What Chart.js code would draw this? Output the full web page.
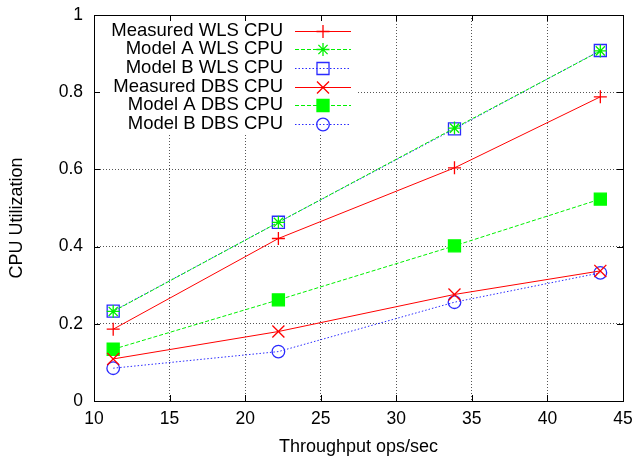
<!DOCTYPE html>
<html>
<head>
<meta charset="utf-8">
<script src="https://cdn.jsdelivr.net/npm/chart.js@4.4.0/dist/chart.umd.min.js"></script>
<style>
  html, body { margin: 0; padding: 0; background: #fff; }
  #wrap { width: 637px; height: 464px; }
</style>
</head>
<body>
<div id="wrap"><canvas id="canvas" width="637" height="464"></canvas></div>
<script>
  // throughput (ops/sec) for each run
  const throughput = [11.27, 22.2, 33.85, 43.5];

  const measuredWls = [0.186, 0.421, 0.604, 0.788];
  const modelAWls = [0.232, 0.463, 0.707, 0.907];
  const modelBWls = [0.233, 0.463, 0.705, 0.908];
  const measuredDbs = [0.109, 0.180, 0.276, 0.337];
  const modelADbs = [0.134, 0.262, 0.402, 0.523];
  const modelBDbs = [0.085, 0.128, 0.256, 0.332];

  const xTicks = [10, 15, 20, 25, 30, 35, 40, 45];
  const yTicks = [0, 0.2, 0.4, 0.6, 0.8, 1];

  const colors = {
    red: "#ff0000",
    green: "#00f000",
    greenFill: "#00ff00",
    blue: "#2a2aff"
  };

  const font = "'Liberation Sans', Arial, Helvetica, sans-serif";

  function pts(values) {
    return values.map((v, i) => ({ x: throughput[i], y: v }));
  }

  const datasets = [
    { label: "Measured WLS CPU", data: pts(measuredWls), borderColor: colors.red, borderDash: [],
      pointStyle: "cross", pointRadius: 6.5, pointBorderColor: colors.red, pointBackgroundColor: "transparent" },
    { label: "Model A WLS CPU", data: pts(modelAWls), borderColor: colors.green, borderDash: [4, 2],
      pointStyle: "star", pointRadius: 6.5, pointBorderColor: colors.green, pointBackgroundColor: "transparent" },
    { label: "Model B WLS CPU", data: pts(modelBWls), borderColor: colors.blue, borderDash: [1.5, 2],
      pointStyle: "rect", pointRadius: 8.5, pointBorderColor: colors.blue, pointBackgroundColor: "transparent" },
    { label: "Measured DBS CPU", data: pts(measuredDbs), borderColor: colors.red, borderDash: [],
      pointStyle: "crossRot", pointRadius: 8.5, pointBorderColor: colors.red, pointBackgroundColor: "transparent" },
    { label: "Model A DBS CPU", data: pts(modelADbs), borderColor: colors.green, borderDash: [4, 2],
      pointStyle: "rect", pointRadius: 8.5, pointBorderColor: colors.greenFill, pointBackgroundColor: colors.greenFill },
    { label: "Model B DBS CPU", data: pts(modelBDbs), borderColor: colors.blue, borderDash: [1.5, 2],
      pointStyle: "circle", pointRadius: 6.3, pointBorderColor: colors.blue, pointBackgroundColor: "transparent" }
  ];
  datasets.forEach(d => {
    d.borderWidth = 1;
    d.pointBorderWidth = 1.3;
    d.fill = false;
    d.tension = 0;
  });

  // gnuplot-like frame: legend box, inward ticks on all sides, border, y title
  const framePlugin = {
    id: "frame",
    beforeDatasetsDraw(chart) {
      const { ctx, chartArea } = chart;
      ctx.save();
      ctx.fillStyle = "#fff";
      ctx.fillRect(chartArea.left, chartArea.top, 264, 118);
      ctx.restore();
    },
    afterDatasetsDraw(chart) {
      const { ctx, chartArea: a, scales } = chart;
      ctx.save();
      ctx.strokeStyle = "#000";
      ctx.lineWidth = 1;
      ctx.setLineDash([]);
      ctx.beginPath();
      xTicks.forEach(t => {
        const x = Math.round(scales.x.getPixelForValue(t)) + 0.5;
        ctx.moveTo(x, a.bottom); ctx.lineTo(x, a.bottom - 6);
        ctx.moveTo(x, a.top); ctx.lineTo(x, a.top + 6);
      });
      yTicks.forEach(t => {
        const y = Math.round(scales.y.getPixelForValue(t)) + 0.5;
        ctx.moveTo(a.left, y); ctx.lineTo(a.left + 6, y);
        ctx.moveTo(a.right, y); ctx.lineTo(a.right - 6, y);
      });
      ctx.stroke();
      ctx.strokeRect(Math.round(a.left) + 0.5, Math.round(a.top) + 0.5,
        Math.round(a.right - a.left), Math.round(a.bottom - a.top));

      // y axis title
      ctx.save();
      ctx.translate(17, 218);
      ctx.rotate(-Math.PI / 2);
      ctx.font = "18px " + font;
      ctx.fillStyle = "#000";
      ctx.textAlign = "center";
      ctx.textBaseline = "middle";
      ctx.fillText("CPU Utilization", 0, 0);
      ctx.restore();

      // legend entries: text right-aligned, sample line + marker to the right
      ctx.font = "18.5px " + font;
      ctx.textAlign = "right";
      ctx.textBaseline = "middle";
      chart.data.datasets.forEach((d, i) => {
        const y = a.top + 15.5 + i * 18.7;
        ctx.fillStyle = "#000";
        ctx.fillText(d.label, a.left + 189, y);
        ctx.strokeStyle = d.borderColor;
        ctx.lineWidth = d.borderWidth;
        ctx.setLineDash(d.borderDash);
        ctx.beginPath();
        ctx.moveTo(a.left + 201, Math.round(y) + 0.5);
        ctx.lineTo(a.left + 257, Math.round(y) + 0.5);
        ctx.stroke();
        ctx.setLineDash([]);
        if (Chart.helpers && Chart.helpers.drawPoint) {
          ctx.strokeStyle = d.pointBorderColor;
          ctx.fillStyle = d.pointBackgroundColor;
          ctx.lineWidth = d.pointBorderWidth;
          Chart.helpers.drawPoint(ctx, { pointStyle: d.pointStyle, radius: d.pointRadius, rotation: 0, borderWidth: d.pointBorderWidth },
            a.left + 229, Math.round(y) + 0.5);
        }
      });
      ctx.restore();
    }
  };

  const ctx = document.getElementById("canvas").getContext("2d");

  const options = {
    type: "line",
    data: { datasets: datasets },
    options: {
      responsive: false,
      animation: false,
      layout: { padding: { top: 15, right: 14, left: 0, bottom: 0 } },
      scales: {
        x: {
          type: "linear",
          min: 10,
          max: 45,
          afterBuildTicks: s => { s.ticks = xTicks.map(v => ({ value: v })); },
          afterFit: s => { s.height = 63; s.paddingLeft = 0; s.paddingRight = 0; },
          ticks: { color: "#000", font: { family: font, size: 17.5 }, padding: 8, maxRotation: 0 },
          grid: { color: "#555", drawTicks: false, lineWidth: 1 },
          border: { display: false, dash: [1, 2] },
          title: { display: true, text: "Throughput ops/sec", color: "#000",
            font: { family: font, size: 18 }, padding: { top: 0, bottom: 6 } }
        },
        y: {
          min: 0,
          max: 1,
          afterBuildTicks: s => { s.ticks = yTicks.map(v => ({ value: v })); },
          afterFit: s => { s.width = 94; s.paddingTop = 0; s.paddingBottom = 0; },
          ticks: { color: "#000", font: { family: font, size: 17.5 }, padding: 11,
            callback: v => String(Math.round(v * 10) / 10) },
          grid: { color: "#555", drawTicks: false, lineWidth: 1 },
          border: { display: false, dash: [1, 2] }
        }
      },
      plugins: {
        legend: { display: false },
        tooltip: { enabled: false }
      }
    },
    plugins: [framePlugin]
  };

  window.myLine = new Chart(ctx, options);
</script>
</body>
</html>
